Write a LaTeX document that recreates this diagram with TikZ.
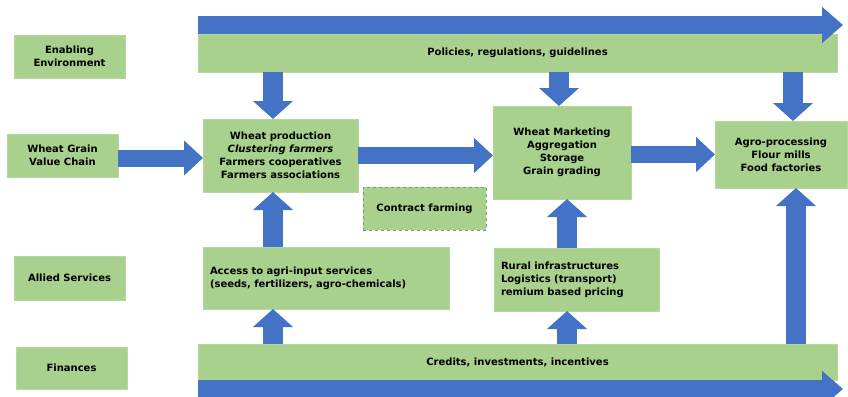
\documentclass[tikz,border=0pt]{standalone}
\usepackage{fontspec}
\setmainfont{DejaVu Sans}
\usetikzlibrary{arrows.meta,positioning}
\definecolor{boxgreen}{HTML}{A9D18E}
\definecolor{arrowblue}{HTML}{4472C4}

\begin{document}
\begin{tikzpicture}[x=1pt,y=-1pt,
box/.style={fill=boxgreen,draw=boxgreen!85!white,rectangle,anchor=north west,
    inner sep=0pt,outer sep=0pt,align=center,font=\fontsize{10}{13}\selectfont\bfseries},
leftbox/.style={box,align=left,inner xsep=7pt},
vertarrow/.style={draw=arrowblue,line width=20pt,-{Triangle[length=18pt,width=39pt]}},
rightarrow/.style={draw=arrowblue,line width=17pt,-{Triangle[length=19pt,width=34pt]}},
bararrow/.style={draw=arrowblue,line width=18pt,-{Triangle[length=21pt,width=35pt]}}]
\useasboundingbox (0,0) rectangle (848,396);
\fill[white] (0,0) rectangle (848,396);

\node (env) [box,minimum width=111pt,minimum height=43pt] at (14,35) {Enabling\\Environment};
\node (wgvc) [box,minimum width=111pt,minimum height=43pt] at (7,134) {Wheat Grain\\Value Chain};
\node (allied) [box,minimum width=111pt,minimum height=44pt] at (14,256) {Allied Services};
\node (fin) [box,minimum width=111pt,minimum height=42pt] at (16,347) {Finances};

\node (policies) [box,minimum width=639pt,minimum height=38pt] at (198,34) {Policies, regulations, guidelines};
\node (credits) [box,minimum width=639pt,minimum height=36pt] at (198,344) {Credits, investments, incentives};

\node (prod) [box,minimum width=155pt,minimum height=73pt] at (203,119)
    {Wheat production\\ \itshape Clustering farmers\\Farmers cooperatives\\Farmers associations};
\node (mkt) [box,minimum width=138pt,minimum height=93pt] at (493,106)
    {Wheat Marketing\\Aggregation\\Storage\\Grain grading};
\node (agro) [box,minimum width=132pt,minimum height=67pt] at (715,121)
    {Agro-processing\\Flour mills\\Food factories};
\node (contract) [box,dashed,draw=boxgreen!75!black,minimum width=123pt,minimum height=43pt] at (363,187)
    {Contract farming};
\node (access) [leftbox,text width=232pt,minimum height=62pt] at (203,247)
    {Access to agri-input services\\(seeds, fertilizers, agro-chemicals)};
\node (rural) [leftbox,text width=151pt,minimum height=63pt] at (494,248)
    {Rural infrastructures\\Logistics (transport)\\remium based pricing};

\coordinate (col1) at (273,0);
\coordinate (col2) at (559,0);
\coordinate (col3) at (567,0);
\coordinate (col4) at (793,0);
\coordinate (col5) at (796,0);
\coordinate (row1) at (0,158);

\draw[bararrow] ([yshift=9pt]policies.north west) -- ([xshift=6pt,yshift=9pt]policies.north east);
\draw[bararrow] ([yshift=-9pt]credits.south west) -- ([xshift=6pt,yshift=-9pt]credits.south east);

\draw[vertarrow] (policies.south -| col1) -- (prod.north -| col1);
\draw[vertarrow] (policies.south -| col2) -- (mkt.north -| col2);
\draw[vertarrow] (policies.south -| col4) -- (agro.north -| col4);

\draw[rightarrow] (wgvc.east |- row1) -- (prod.west |- row1);
\draw[rightarrow] (prod.east) -- (mkt.west |- prod.east);
\draw[rightarrow] (mkt.east |- agro.west) -- (agro.west);

\draw[vertarrow] (access.north -| col1) -- (prod.south -| col1);
\draw[vertarrow] (credits.north -| col1) -- (access.south -| col1);
\draw[vertarrow] (rural.north -| col3) -- (mkt.south -| col3);
\draw[vertarrow] (credits.north -| col3) -- (rural.south -| col3);
\draw[vertarrow] (credits.north -| col5) -- (agro.south -| col5);
\end{tikzpicture}
\end{document}
